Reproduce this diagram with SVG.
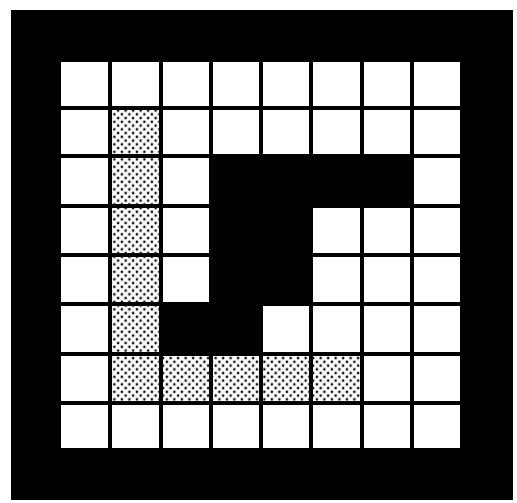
<svg xmlns="http://www.w3.org/2000/svg" width="517" height="503" viewBox="0 0 517 503">
<defs>
<pattern id="dots" width="7.5" height="7.5" patternUnits="userSpaceOnUse">
<rect width="7.5" height="7.5" fill="#fff"/>
<circle cx="1.9" cy="1.9" r="1.35" fill="#111"/>
<circle cx="5.65" cy="5.65" r="1.35" fill="#111"/>
</pattern>
</defs>
<style>
.w{fill:#fff}
.d{fill:url(#dots)}
</style>
<rect width="517" height="503" fill="#fff"/>
<g id="frame">
<rect x="11" y="10" width="502" height="490" fill="#000"/>
</g>
<g id="cells">
<!-- row 0 -->
<rect class="w" x="61" y="62" width="47" height="44"/>
<rect class="w" x="112" y="62" width="47" height="44"/>
<rect class="w" x="163" y="62" width="46" height="44"/>
<rect class="w" x="213" y="62" width="46" height="44"/>
<rect class="w" x="263" y="62" width="46" height="44"/>
<rect class="w" x="313" y="62" width="47" height="44"/>
<rect class="w" x="364" y="62" width="46" height="44"/>
<rect class="w" x="414" y="62" width="46" height="44"/>
<!-- row 1 -->
<rect class="w" x="61" y="110" width="47" height="44"/>
<rect class="d" x="112" y="110" width="47" height="44"/>
<rect class="w" x="163" y="110" width="46" height="44"/>
<rect class="w" x="213" y="110" width="46" height="44"/>
<rect class="w" x="263" y="110" width="46" height="44"/>
<rect class="w" x="313" y="110" width="47" height="44"/>
<rect class="w" x="364" y="110" width="46" height="44"/>
<rect class="w" x="414" y="110" width="46" height="44"/>
<!-- row 2 -->
<rect class="w" x="61" y="158" width="47" height="46"/>
<rect class="d" x="112" y="158" width="47" height="46"/>
<rect class="w" x="163" y="158" width="46" height="46"/>
<rect class="w" x="414" y="158" width="46" height="46"/>
<!-- row 3 -->
<rect class="w" x="61" y="208" width="47" height="45"/>
<rect class="d" x="112" y="208" width="47" height="45"/>
<rect class="w" x="163" y="208" width="46" height="45"/>
<rect class="w" x="313" y="208" width="47" height="45"/>
<rect class="w" x="364" y="208" width="46" height="45"/>
<rect class="w" x="414" y="208" width="46" height="45"/>
<!-- row 4 -->
<rect class="w" x="61" y="257" width="47" height="45"/>
<rect class="d" x="112" y="257" width="47" height="45"/>
<rect class="w" x="163" y="257" width="46" height="45"/>
<rect class="w" x="313" y="257" width="47" height="45"/>
<rect class="w" x="364" y="257" width="46" height="45"/>
<rect class="w" x="414" y="257" width="46" height="45"/>
<!-- row 5 -->
<rect class="w" x="61" y="306" width="47" height="46"/>
<rect class="d" x="112" y="306" width="47" height="46"/>
<rect class="w" x="263" y="306" width="46" height="46"/>
<rect class="w" x="313" y="306" width="47" height="46"/>
<rect class="w" x="364" y="306" width="46" height="46"/>
<rect class="w" x="414" y="306" width="46" height="46"/>
<!-- row 6 -->
<rect class="w" x="61" y="356" width="47" height="45"/>
<rect class="d" x="112" y="356" width="47" height="45"/>
<rect class="d" x="163" y="356" width="46" height="45"/>
<rect class="d" x="213" y="356" width="46" height="45"/>
<rect class="d" x="263" y="356" width="46" height="45"/>
<rect class="d" x="313" y="356" width="47" height="45"/>
<rect class="w" x="364" y="356" width="46" height="45"/>
<rect class="w" x="414" y="356" width="46" height="45"/>
<!-- row 7 -->
<rect class="w" x="61" y="405" width="47" height="43"/>
<rect class="w" x="112" y="405" width="47" height="43"/>
<rect class="w" x="163" y="405" width="46" height="43"/>
<rect class="w" x="213" y="405" width="46" height="43"/>
<rect class="w" x="263" y="405" width="46" height="43"/>
<rect class="w" x="313" y="405" width="47" height="43"/>
<rect class="w" x="364" y="405" width="46" height="43"/>
<rect class="w" x="414" y="405" width="46" height="43"/>
</g>
</svg>
